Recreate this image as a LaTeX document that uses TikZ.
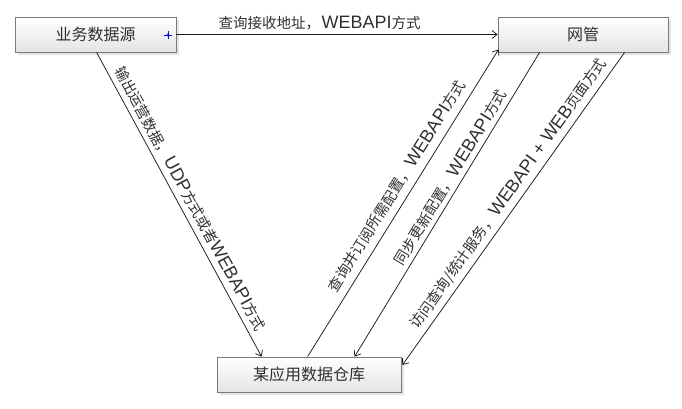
\documentclass[tikz,border=0pt]{standalone}
\usepackage{fontspec}
\setmainfont{Noto Sans CJK SC}
\newfontfamily\latinf{Liberation Sans}[Scale=1.24]
\newcommand\lt[1]{{\latinf #1}}
\newcommand\cm{，\kern1.5pt}
\usetikzlibrary{arrows.meta,calc,shadows}
\definecolor{txt}{HTML}{303030}
\definecolor{boxline}{HTML}{7A7A7A}
\definecolor{boxbot}{HTML}{E4E4E4}
\definecolor{lnc}{HTML}{1A1A1A}
\definecolor{plusblue}{HTML}{1010E0}
\tikzset{
  box/.style={draw=boxline, line width=0.8pt, top color=white, bottom color=boxbot,
    text=txt, font=\fontsize{16}{19}\selectfont, inner sep=0pt,
    drop shadow={shadow xshift=2.5pt, shadow yshift=-2.5pt, fill=black!18, opacity=0.6}},
  conn/.style={draw=lnc, line width=0.75pt, -{Straight Barb[length=5pt,width=8pt,line width=0.75pt]}},
  lbl/.style={text=txt, font=\fontsize{14.5}{17}\selectfont, inner sep=1pt}
}
\begin{document}
\begin{tikzpicture}[x=1pt,y=-1pt]
\useasboundingbox (0,0) rectangle (682,408);
\node[box, minimum width=161pt, minimum height=35pt] (src) at (95.5,34.5) {业务数据源};
\node[box, minimum width=170pt, minimum height=35pt] (gw) at (583,34.5) {网管};
\node[box, minimum width=184pt, minimum height=35pt] (wh) at (309,374.5) {某应用数据仓库};

\draw[conn] (src.east) -- node[lbl, pos=0.446, above=3pt] {查询接收地址\cm\lt{WEBAPI}方式} (gw.west);

\draw[conn] ($(src.south west)+(82,0)$) -- node[lbl, sloped, pos=0.5, above=4pt] {输出运营数据\cm\lt{UDP}方式或者\lt{WEBAPI}方式} ($(wh.north west)+(45,0)$);

\draw[conn] ($(wh.north west)+(91,0)$) -- node[lbl, sloped, pos=0.53, above=6pt] {查询并订阅所需配置\cm\lt{WEBAPI}方式} ($(gw.south west)+(1,-3)$);

\draw[conn] ($(gw.south west)+(42,0)$) -- node[lbl, sloped, pos=0.43, above=3pt] {同步更新配置\cm\lt{WEBAPI}方式} ($(wh.north west)+(138,0)$);

\draw[conn] ($(gw.south west)+(127,0)$) -- node[lbl, sloped, pos=0.476, above=4pt] {访问查询/统计服务\cm\lt{WEBAPI + WEB}页面方式} ($(wh.east)+(1,-9.5)$);

\coordinate (pc) at (168,35);
\draw[plusblue, line width=0.8pt] ($(pc)+(-4,0)$) -- ($(pc)+(4,0)$) ($(pc)+(0,-4)$) -- ($(pc)+(0,4)$);
\draw[plusblue, line width=0.6pt] (pc) circle (1.3pt);
\end{tikzpicture}
\end{document}
